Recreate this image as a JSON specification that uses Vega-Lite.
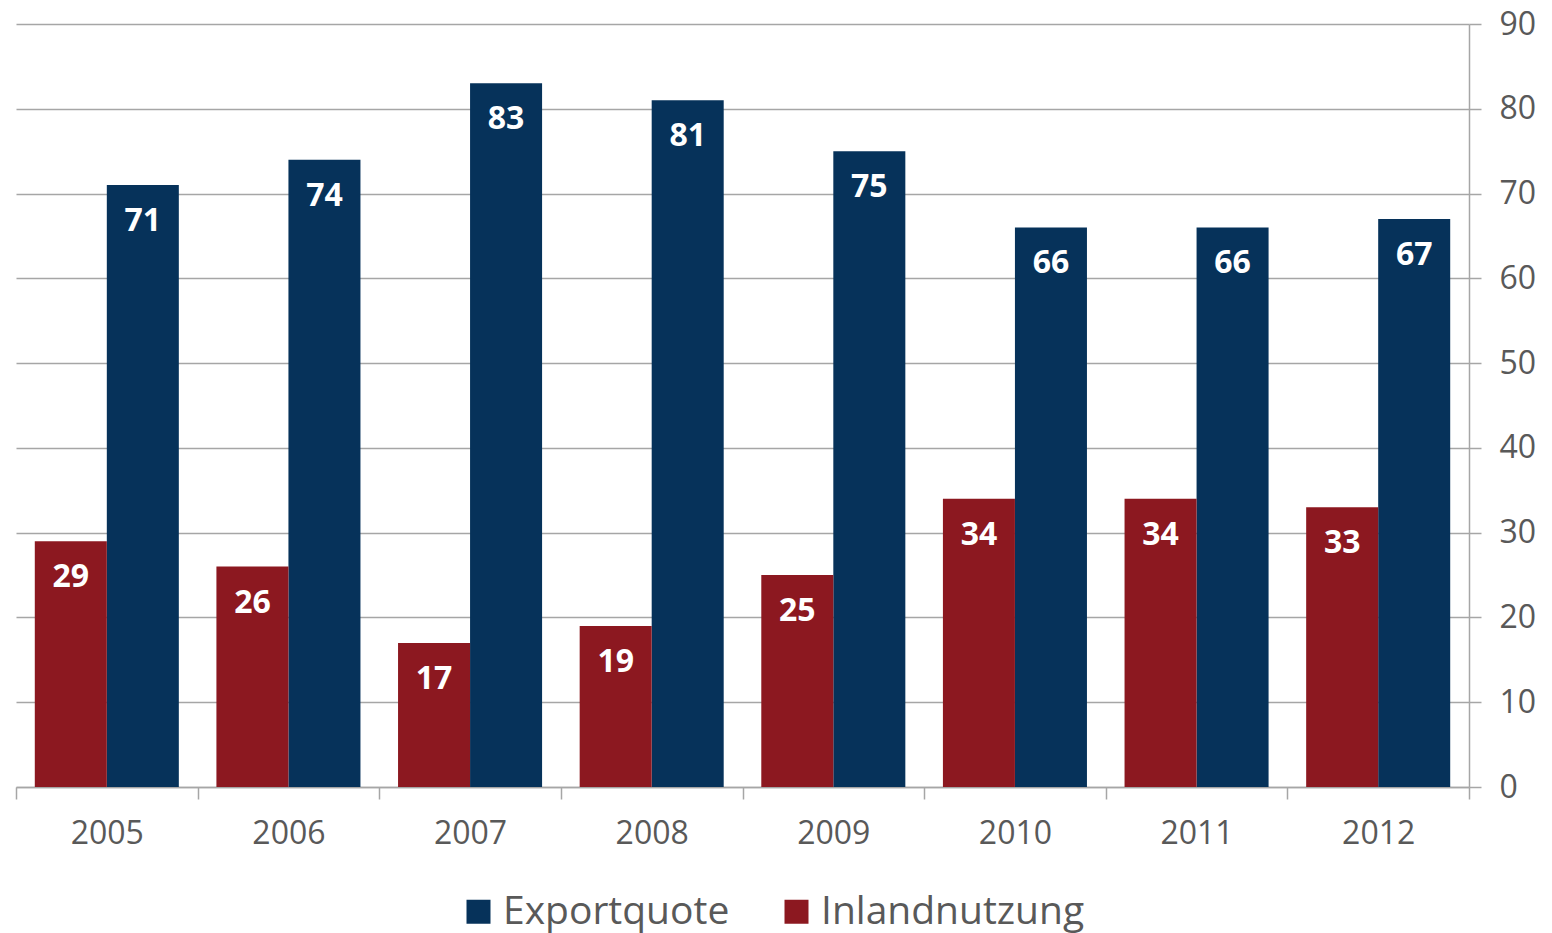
{
  "$schema": "https://vega.github.io/schema/vega-lite/v6.json",
  "width": 1453,
  "height": 763,
  "padding": {"left": 15, "top": 8, "right": 12, "bottom": 4},
  "background": "white",
  "config": {
    "view": {"stroke": null},
    "font": "Open Sans"
  },
  "data": {
    "values": [
      {"year": "2005", "series": "Exportquote", "value": 71},
      {"year": "2005", "series": "Inlandnutzung", "value": 29},
      {"year": "2006", "series": "Exportquote", "value": 74},
      {"year": "2006", "series": "Inlandnutzung", "value": 26},
      {"year": "2007", "series": "Exportquote", "value": 83},
      {"year": "2007", "series": "Inlandnutzung", "value": 17},
      {"year": "2008", "series": "Exportquote", "value": 81},
      {"year": "2008", "series": "Inlandnutzung", "value": 19},
      {"year": "2009", "series": "Exportquote", "value": 75},
      {"year": "2009", "series": "Inlandnutzung", "value": 25},
      {"year": "2010", "series": "Exportquote", "value": 66},
      {"year": "2010", "series": "Inlandnutzung", "value": 34},
      {"year": "2011", "series": "Exportquote", "value": 66},
      {"year": "2011", "series": "Inlandnutzung", "value": 34},
      {"year": "2012", "series": "Exportquote", "value": 67},
      {"year": "2012", "series": "Inlandnutzung", "value": 33}
    ]
  },
  "encoding": {
    "x": {
      "field": "year",
      "type": "nominal",
      "scale": {"paddingInner": 0, "paddingOuter": 0},
      "axis": {
        "title": null,
        "labelAngle": 0,
        "labelFontSize": 32,
        "labelColor": "#595959",
        "labelPadding": 19,
        "domainColor": "#A6A6A6",
        "domainWidth": 1.5,
        "tickColor": "#A6A6A6",
        "tickWidth": 1.5,
        "tickSize": 12,
        "tickBand": "extent",
        "grid": false
      }
    },
    "xOffset": {
      "field": "series",
      "type": "nominal",
      "scale": {"domain": ["Inlandnutzung", "Exportquote"], "paddingInner": 0, "paddingOuter": 0.261}
    },
    "y": {
      "field": "value",
      "type": "quantitative",
      "scale": {"domain": [0, 90], "nice": false},
      "axis": {
        "title": null,
        "orient": "right",
        "values": [0, 10, 20, 30, 40, 50, 60, 70, 80, 90],
        "labelFontSize": 32,
        "labelColor": "#595959",
        "labelPadding": 18,
        "domainColor": "#A6A6A6",
        "domainWidth": 1.5,
        "tickColor": "#A6A6A6",
        "tickWidth": 1.5,
        "tickSize": 12,
        "grid": true,
        "gridColor": "#A6A6A6",
        "gridWidth": 1.5
      }
    }
  },
  "layer": [
    {
      "mark": {"type": "bar"},
      "encoding": {
        "color": {
          "field": "series",
          "type": "nominal",
          "scale": {"domain": ["Exportquote", "Inlandnutzung"], "range": ["#06325A", "#8C1820"]},
          "legend": {
            "title": null,
            "orient": "none",
            "legendX": 443,
            "legendY": 868,
            "direction": "horizontal",
            "symbolType": "square",
            "symbolSize": 576,
            "symbolStrokeWidth": 0,
            "labelFontSize": 39,
            "labelColor": "#595959",
            "labelLimit": 400,
            "labelOffset": 5,
            "columnPadding": 47
          }
        }
      }
    },
    {
      "mark": {"type": "text", "baseline": "middle", "dy": 36, "fontWeight": "bold", "color": "white", "fontSize": 32},
      "encoding": {"text": {"field": "value", "type": "quantitative"}}
    }
  ]
}
